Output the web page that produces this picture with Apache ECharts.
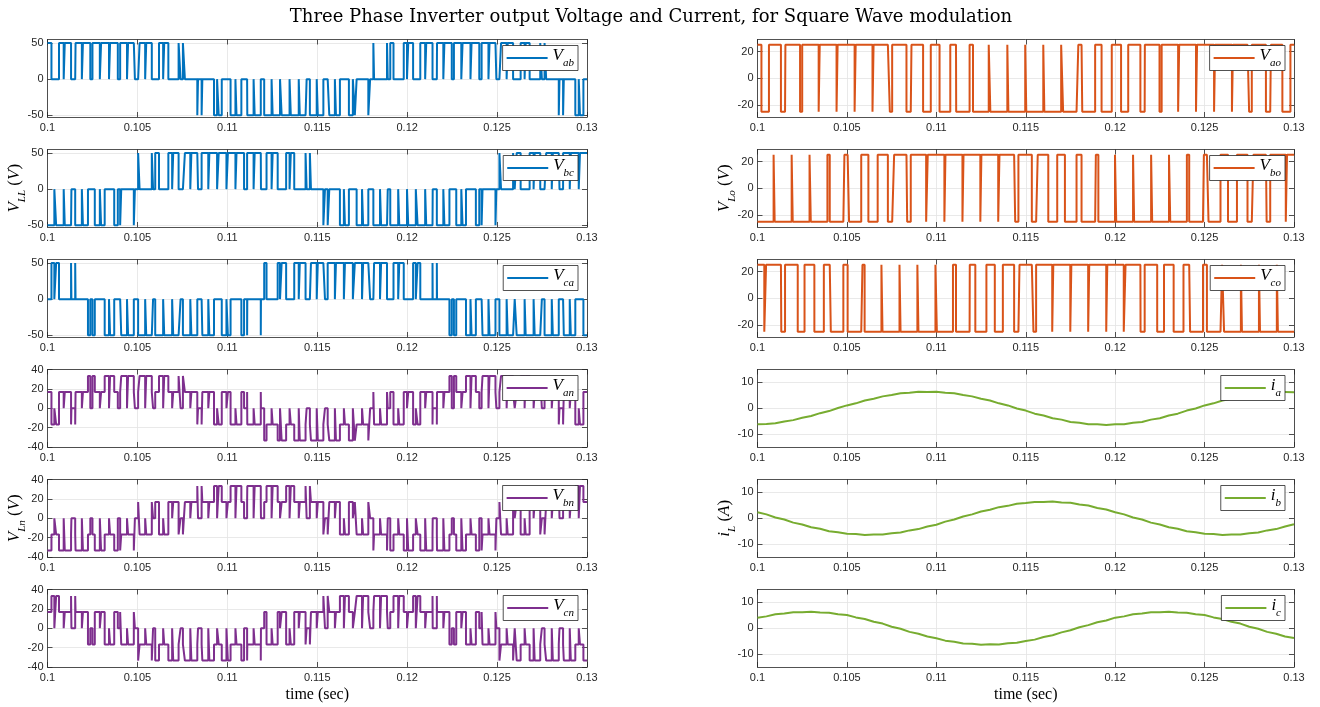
<!DOCTYPE html>
<html><head><meta charset="utf-8">
<script src="https://cdn.jsdelivr.net/npm/echarts@6/dist/echarts.min.js"></script>
<style>html,body{margin:0;padding:0;background:#fff}#c{width:1320px;height:707px}</style>
</head><body><div id="c"></div>
<script>
// ---------------- data ----------------
const xTicks   = [0.1, 0.105, 0.11, 0.115, 0.12, 0.125, 0.13];
const yTicksLL = [-50, 0, 50];
const yTicksLo = [-20, 0, 20];
const yTicksLn = [-40, -20, 0, 20, 40];
const yTicksI  = [-10, 0, 10];
const tStart = 0.1;           // s, left end of the window
const tEndMs = 30;            // ms, window length
// pole voltages: level at t = 0.1 s and switching instants (ms after 0.1 s)
const vaoStart = 25;
const vaoEdges = [0.22,0.64, 1.31,1.56, 2.38,2.50, 3.42,3.48, 4.42,4.48, 5.43,5.49, 6.43,6.49,
  7.40,7.53, 8.33,8.61, 9.26,9.69, 10.18,10.78, 11.11,11.86, 12.05,12.93, 13.02,13.97,
  14.03,14.97, 15.03,15.98, 16.04,16.98, 17.09,17.94, 18.16,18.88, 19.24,19.81, 20.33,20.73,
  21.41,21.66, 22.48,22.60, 23.52,23.58, 24.52,24.58, 25.53,25.59, 26.53,26.59, 27.49,27.64,
  28.43,28.71, 29.35,29.80];
const vboStart = -25;
const vboEdges = [0.90, 0.96,1.91, 1.97,2.91, 2.98,3.91, 4.04,4.86, 5.12,5.80, 6.20,6.72,
  7.29,7.64, 8.37,8.57, 9.43,9.52, 10.45,10.51, 11.46,11.52, 12.46,12.52, 13.46,13.53,
  14.41,14.59, 15.34,15.67, 16.26,16.76, 17.19,17.84, 18.12,18.92, 19.06,19.99, 20.06,21.00,
  21.06,22.01, 22.07,23.01, 23.08,24.01, 24.14,24.96, 25.22,25.89, 26.31,26.81, 27.40,27.73,
  28.47,28.67, 29.54,29.61];
const vcoStart = 25;
const vcoEdges = [0.38,0.48, 1.33,1.54, 2.25,2.63, 3.18,3.71, 4.10,4.80, 5.04,5.87, 5.99,6.93,
  6.99,7.94, 8.00,8.94, 9.00,9.95, 10.03,10.93, 11.10,11.87, 12.18,12.80, 13.27,13.72,
  14.35,14.65, 15.43,15.58, 16.48,16.54, 17.49,17.55, 18.49,18.55, 19.50,19.56, 20.48,20.58,
  21.42,21.65, 22.35,22.73, 23.27,23.82, 24.19,24.91, 25.13,25.98, 26.09,27.03, 27.09,28.04,
  28.10,29.04, 29.10];
// load currents, one sample every 0.5 ms from 0.1 s
const currentStepMs = 0.5;
const iaVals = [-6.2,-6.1,-5.8,-5.1,-4.6,-3.7,-3.0,-1.9,-1.1,0.1,1.1,1.9,3.0,3.7,4.6,5.1,5.8,6.0,6.4,6.3,
  6.4,6.0,5.8,5.1,4.6,3.7,3.0,1.9,1.1,-0.1,-0.9,-2.1,-2.8,-3.9,-4.4,-5.3,-5.6,-6.2,-6.2,-6.5,
  -6.2,-6.2,-5.6,-5.3,-4.4,-3.9,-2.8,-2.1,-0.9,-0.1,1.1,1.9,3.0,3.7,4.6,5.1,5.8,6.0,6.4,6.3,6.2];
const ibVals = [2.3,1.5,0.3,-0.5,-1.7,-2.4,-3.5,-4.1,-5.0,-5.4,-6.0,-6.1,-6.5,-6.3,-6.3,-5.8,-5.5,-4.7,-4.2,-3.2,
  -2.5,-1.3,-0.5,0.7,1.5,2.6,3.3,4.3,4.8,5.6,5.9,6.3,6.3,6.5,6.1,6.0,5.3,4.9,4.0,3.4,
  2.3,1.5,0.3,-0.5,-1.7,-2.4,-3.5,-4.1,-5.0,-5.4,-6.0,-6.1,-6.5,-6.3,-6.3,-5.8,-5.5,-4.7,-4.2,-3.2,-2.3];
const icVals = [4.1,4.6,5.4,5.7,6.2,6.2,6.4,6.1,6.0,5.4,5.1,4.2,3.6,2.5,1.8,0.6,-0.2,-1.4,-2.1,-3.2,
  -3.9,-4.8,-5.2,-5.9,-6.0,-6.4,-6.2,-6.3,-5.8,-5.6,-4.9,-4.4,-3.4,-2.7,-1.6,-0.8,0.4,1.2,2.3,3.0,
  4.1,4.6,5.4,5.7,6.2,6.2,6.4,6.1,6.0,5.4,5.1,4.2,3.6,2.5,1.8,0.6,-0.2,-1.4,-2.1,-3.2,-3.8];

// ---------------- build ----------------
function levelAt(start, edges, tau) {
  let n = 0; for (const e of edges) if (e <= tau) n++;
  return n % 2 ? -start : start;
}
const bounds = [0, ...Array.from(new Set([...vaoEdges, ...vboEdges, ...vcoEdges]))
  .filter(e => e > 0 && e < tEndMs).sort((a, b) => a - b), tEndMs];
function stepData(fn) {
  const pts = [];
  for (let i = 0; i < bounds.length - 1; i++) {
    const a = bounds[i], b = bounds[i + 1], m = (a + b) / 2;
    const va = levelAt(vaoStart, vaoEdges, m), vb = levelAt(vboStart, vboEdges, m), vc = levelAt(vcoStart, vcoEdges, m);
    const v = fn(va, vb, vc);
    pts.push([tStart + a / 1000, v], [tStart + b / 1000, v]);
  }
  return pts;
}
const sampled = vals => vals.map((v, i) => [tStart + i * currentStepMs / 1000, v]);

const C_BLUE = '#0072BD', C_OR = '#D95319', C_PU = '#7E2F8E', C_GR = '#77AC30';
const panels = [
  {col:0,row:0,name:'V_ab',color:C_BLUE,data:stepData((a,b,c)=>a-b),yr:[-52.5,55],yt:yTicksLL},
  {col:0,row:1,name:'V_bc',color:C_BLUE,data:stepData((a,b,c)=>b-c),yr:[-52.5,55],yt:yTicksLL,yName:['V','LL','V']},
  {col:0,row:2,name:'V_ca',color:C_BLUE,data:stepData((a,b,c)=>c-a),yr:[-52.5,55],yt:yTicksLL},
  {col:0,row:3,name:'V_an',color:C_PU,data:stepData((a,b,c)=>(2*a-b-c)/3),yr:[-40,40],yt:yTicksLn},
  {col:0,row:4,name:'V_bn',color:C_PU,data:stepData((a,b,c)=>(2*b-a-c)/3),yr:[-40,40],yt:yTicksLn,yName:['V','Ln','V']},
  {col:0,row:5,name:'V_cn',color:C_PU,data:stepData((a,b,c)=>(2*c-a-b)/3),yr:[-40,40],yt:yTicksLn,xName:true},
  {col:1,row:0,name:'V_ao',color:C_OR,data:stepData((a,b,c)=>a),yr:[-29,29],yt:yTicksLo},
  {col:1,row:1,name:'V_bo',color:C_OR,data:stepData((a,b,c)=>b),yr:[-29,29],yt:yTicksLo,yName:['V','Lo','V']},
  {col:1,row:2,name:'V_co',color:C_OR,data:stepData((a,b,c)=>c),yr:[-29,29],yt:yTicksLo},
  {col:1,row:3,name:'i_a',color:C_GR,data:sampled(iaVals),yr:[-15,15],yt:yTicksI},
  {col:1,row:4,name:'i_b',color:C_GR,data:sampled(ibVals),yr:[-15,15],yt:yTicksI,yName:['i','L','A']},
  {col:1,row:5,name:'i_c',color:C_GR,data:sampled(icVals),yr:[-15,15],yt:yTicksI,xName:true},
];

const W = 1320;
const cols = [{l:47.5, r:587}, {l:757.5, r:1294}];
const rowTop = r => 39.5 + 110 * r, rowH = 77.5;
const AX = '#262626', GRIDC = '#e3e3e3';
const SERIF = "'Liberation Serif','DejaVu Serif',serif";
const SANS = "'Liberation Sans',Arial,sans-serif";
const mathRich = {
  m: {fontFamily: SERIF, fontStyle: 'italic', fontSize: 17, color: '#000', lineHeight: 18, verticalAlign: 'top'},
  s: {fontFamily: SERIF, fontStyle: 'italic', fontSize: 11, color: '#000', lineHeight: 21, verticalAlign: 'bottom'},
  p: {fontFamily: SERIF, fontSize: 17, color: '#000', lineHeight: 18, verticalAlign: 'top'}
};

const grid = [], xAxis = [], yAxis = [], series = [], legend = [];
panels.forEach((p, i) => {
  const c = cols[p.col];
  grid.push({left: c.l, right: W - c.r, top: rowTop(p.row), height: rowH, containLabel: false, outerBoundsMode: 'none'});
  const xBase = {gridIndex: i, type: 'value', min: 0.1, max: 0.13, interval: 0.005,
    axisLine: {show: true, onZero: false, lineStyle: {color: AX, width: 0.8}},
    axisTick: {show: true, inside: true, length: 5, customValues: xTicks, lineStyle: {color: AX, width: 0.8}}};
  xAxis.push(Object.assign({}, xBase, {position: 'bottom',
    axisLabel: {show: true, customValues: xTicks, margin: 5, color: AX, fontFamily: SANS, fontSize: 11,
      formatter: v => String(+(+v).toFixed(3))},
    splitLine: {show: true, lineStyle: {color: GRIDC, width: 0.8}},
    name: p.xName ? 'time (sec)' : '', nameLocation: 'middle', nameGap: 20,
    nameTextStyle: {fontFamily: SERIF, fontSize: 16, color: '#000'}}));
  const yBase = {gridIndex: i, type: 'value', min: p.yr[0], max: p.yr[1],
    axisLine: {show: true, onZero: false, lineStyle: {color: AX, width: 0.8}},
    axisTick: {show: true, inside: true, length: 5, customValues: p.yt, lineStyle: {color: AX, width: 0.8}}};
  yAxis.push(Object.assign({}, yBase, {position: 'left',
    axisLabel: {show: true, customValues: p.yt, margin: 4, color: AX, fontFamily: SANS, fontSize: 11},
    splitLine: {show: true, lineStyle: {color: GRIDC, width: 0.8}},
    name: p.yName ? `{m|${p.yName[0]}}{s|${p.yName[1]}}{p| (}{m|${p.yName[2]}}{p|)}` : '',
    nameLocation: 'middle', nameRotate: 90, nameGap: 20, nameMoveOverlap: false,
    nameTextStyle: {rich: mathRich}}));
  series.push({type: 'line', name: p.name, xAxisIndex: i, yAxisIndex: i, data: p.data,
    symbol: 'none', showSymbol: false, animation: false, clip: true,
    lineStyle: {color: p.color, width: 2}, itemStyle: {color: p.color}, z: 3});
  legend.push({data: [p.name], right: W - c.r + 9, top: rowTop(p.row) + 6, orient: 'vertical',
    backgroundColor: '#fff', borderColor: AX, borderWidth: 0.8, borderRadius: 0, padding: [2, 4, 2, 4],
    icon: 'rect', itemWidth: 41, itemHeight: 2, itemGap: 0, selectedMode: false,
    formatter: n => { const [m, s] = n.split('_'); return `{m|${m}}{s|${s}}`; },
    textStyle: {rich: mathRich}});
});
// mirror axes (top / right) for the closed box with inward ticks
panels.forEach((p, i) => {
  xAxis.push({gridIndex: i, type: 'value', min: 0.1, max: 0.13, interval: 0.005, position: 'top',
    axisLine: {show: true, onZero: false, lineStyle: {color: AX, width: 0.8}},
    axisTick: {show: true, inside: true, length: 5, customValues: xTicks, lineStyle: {color: AX, width: 0.8}},
    axisLabel: {show: false}, splitLine: {show: false}});
  yAxis.push({gridIndex: i, type: 'value', min: p.yr[0], max: p.yr[1], position: 'right',
    axisLine: {show: true, onZero: false, lineStyle: {color: AX, width: 0.8}},
    axisTick: {show: true, inside: true, length: 5, customValues: p.yt, lineStyle: {color: AX, width: 0.8}},
    axisLabel: {show: false}, splitLine: {show: false}});
});

const chart = echarts.init(document.getElementById('c'), null, {renderer: 'canvas'});
chart.setOption({
  animation: false,
  backgroundColor: '#fff',
  title: {text: 'Three Phase Inverter output Voltage and Current, for Square Wave modulation',
    left: 646, textAlign: 'center', top: 3,
    textStyle: {fontFamily: "'DejaVu Serif',serif", fontSize: 18, fontWeight: 'normal', color: '#000'}},
  grid, xAxis, yAxis, series, legend
});
</script></body></html>
